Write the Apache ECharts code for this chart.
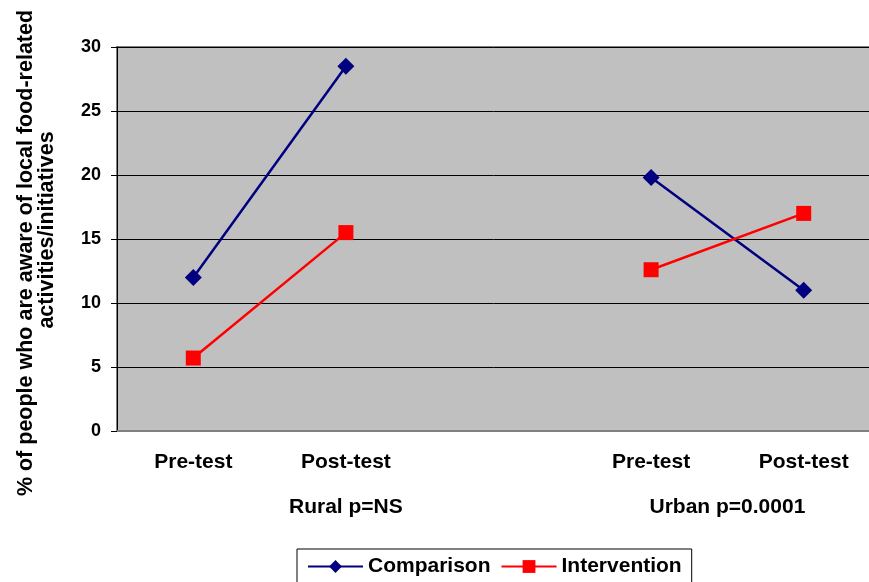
<!DOCTYPE html>
<html>
<head>
<meta charset="utf-8">
<script src="https://cdn.jsdelivr.net/npm/echarts@6/dist/echarts.min.js"></script>
<style>
  html, body { margin: 0; padding: 0; background: #ffffff; }
  #chart { width: 869px; height: 582px; }
</style>
</head>
<body>
<div id="chart"></div>
<script>
// Categories (blank slot separates the two groups)
const categories = ['Pre-test', 'Post-test', '', 'Pre-test', 'Post-test'];
// Group labels (second row) and their centre positions in category units
const groupNames = ['Rural p=NS', 'Urban p=0.0001'];
const groupCentres = [1.5, 4.0];
// Series values (%)
const comparison = [12.0, 28.5, null, 19.8, 11.0];
const intervention = [5.7, 15.5, null, 12.6, 17.0];
// Y axis
const yMin = 0, yMax = 30, yStep = 5;
const yTitleLines = ['% of people who are aware of local food-related', 'activities/initiatives'];

const FONT = "'Liberation Sans', Arial, sans-serif";
const chart = echarts.init(document.getElementById('chart'), null, { renderer: 'canvas' });

const titleStyle = { fontFamily: FONT, fontWeight: 'bold', fontSize: 21.5, color: '#000' };

chart.setOption({
  animation: false,
  backgroundColor: '#ffffff',
  grid: {
    left: 117, top: 47, width: 763, height: 384,
    outerBoundsMode: 'none', containLabel: false,
    show: true, backgroundColor: '#C0C0C0', borderColor: '#808080', borderWidth: 2
  },
  legend: {
    left: 297, top: 549,
    padding: [7, 10, 8, 10],
    borderColor: '#000000', borderWidth: 1,
    itemWidth: 55, itemHeight: 16, itemGap: 10,
    lineStyle: { width: 2 },
    textStyle: { fontFamily: FONT, fontWeight: 'bold', fontSize: 21, color: '#000' },
    data: ['Comparison', 'Intervention']
  },
  xAxis: [
    {
      type: 'category', data: categories, boundaryGap: true,
      axisLine: { show: true, lineStyle: { color: '#808080', width: 2 } },
      axisTick: { show: false },
      splitLine: { show: false },
      axisLabel: { interval: 0, margin: 21, fontFamily: FONT, fontWeight: 'bold', fontSize: 21, color: '#000' }
    },
    {
      type: 'value', min: 0, max: categories.length, interval: 0.5, position: 'bottom',
      axisLine: { show: false }, axisTick: { show: false }, splitLine: { show: false },
      axisLabel: {
        margin: 66, showMinLabel: true, showMaxLabel: true,
        fontFamily: FONT, fontWeight: 'bold', fontSize: 21, color: '#000',
        formatter: function (v) {
          for (let i = 0; i < groupCentres.length; i++) {
            if (Math.abs(v - groupCentres[i]) < 1e-6) return groupNames[i];
          }
          return '';
        }
      }
    }
  ],
  yAxis: [
    {
      type: 'value', min: yMin, max: yMax, interval: yStep,
      name: yTitleLines[0], nameLocation: 'middle', nameGap: 80, nameRotate: 90,
      nameTextStyle: Object.assign({ padding: [0, 28, 0, 0] }, titleStyle),
      axisLine: { show: true, lineStyle: { color: '#000', width: 1 } },
      axisTick: { show: true, inside: false, length: 6, lineStyle: { color: '#000', width: 1 } },
      splitLine: { show: true, lineStyle: { color: '#000', width: 1 } },
      axisLabel: { margin: 16, fontFamily: FONT, fontWeight: 'bold', fontSize: 18, color: '#000' }
    },
    {
      type: 'value', min: yMin, max: yMax, interval: yStep, position: 'left',
      name: yTitleLines[1], nameLocation: 'middle', nameGap: 59, nameRotate: 90,
      nameTextStyle: Object.assign({ padding: [0, 0, 0, 18] }, titleStyle),
      axisLine: { show: false }, axisTick: { show: false },
      splitLine: { show: false }, axisLabel: { show: false }
    }
  ],
  series: [
    {
      name: 'Comparison', type: 'line', data: comparison, connectNulls: false,
      symbol: 'diamond', symbolSize: 17,
      itemStyle: { color: '#000080' },
      lineStyle: { color: '#000080', width: 2.5 }
    },
    {
      name: 'Intervention', type: 'line', data: intervention, connectNulls: false,
      symbol: 'rect', symbolSize: 15,
      itemStyle: { color: '#FF0000' },
      lineStyle: { color: '#FF0000', width: 2.5 }
    }
  ]
});
</script>
</body>
</html>
